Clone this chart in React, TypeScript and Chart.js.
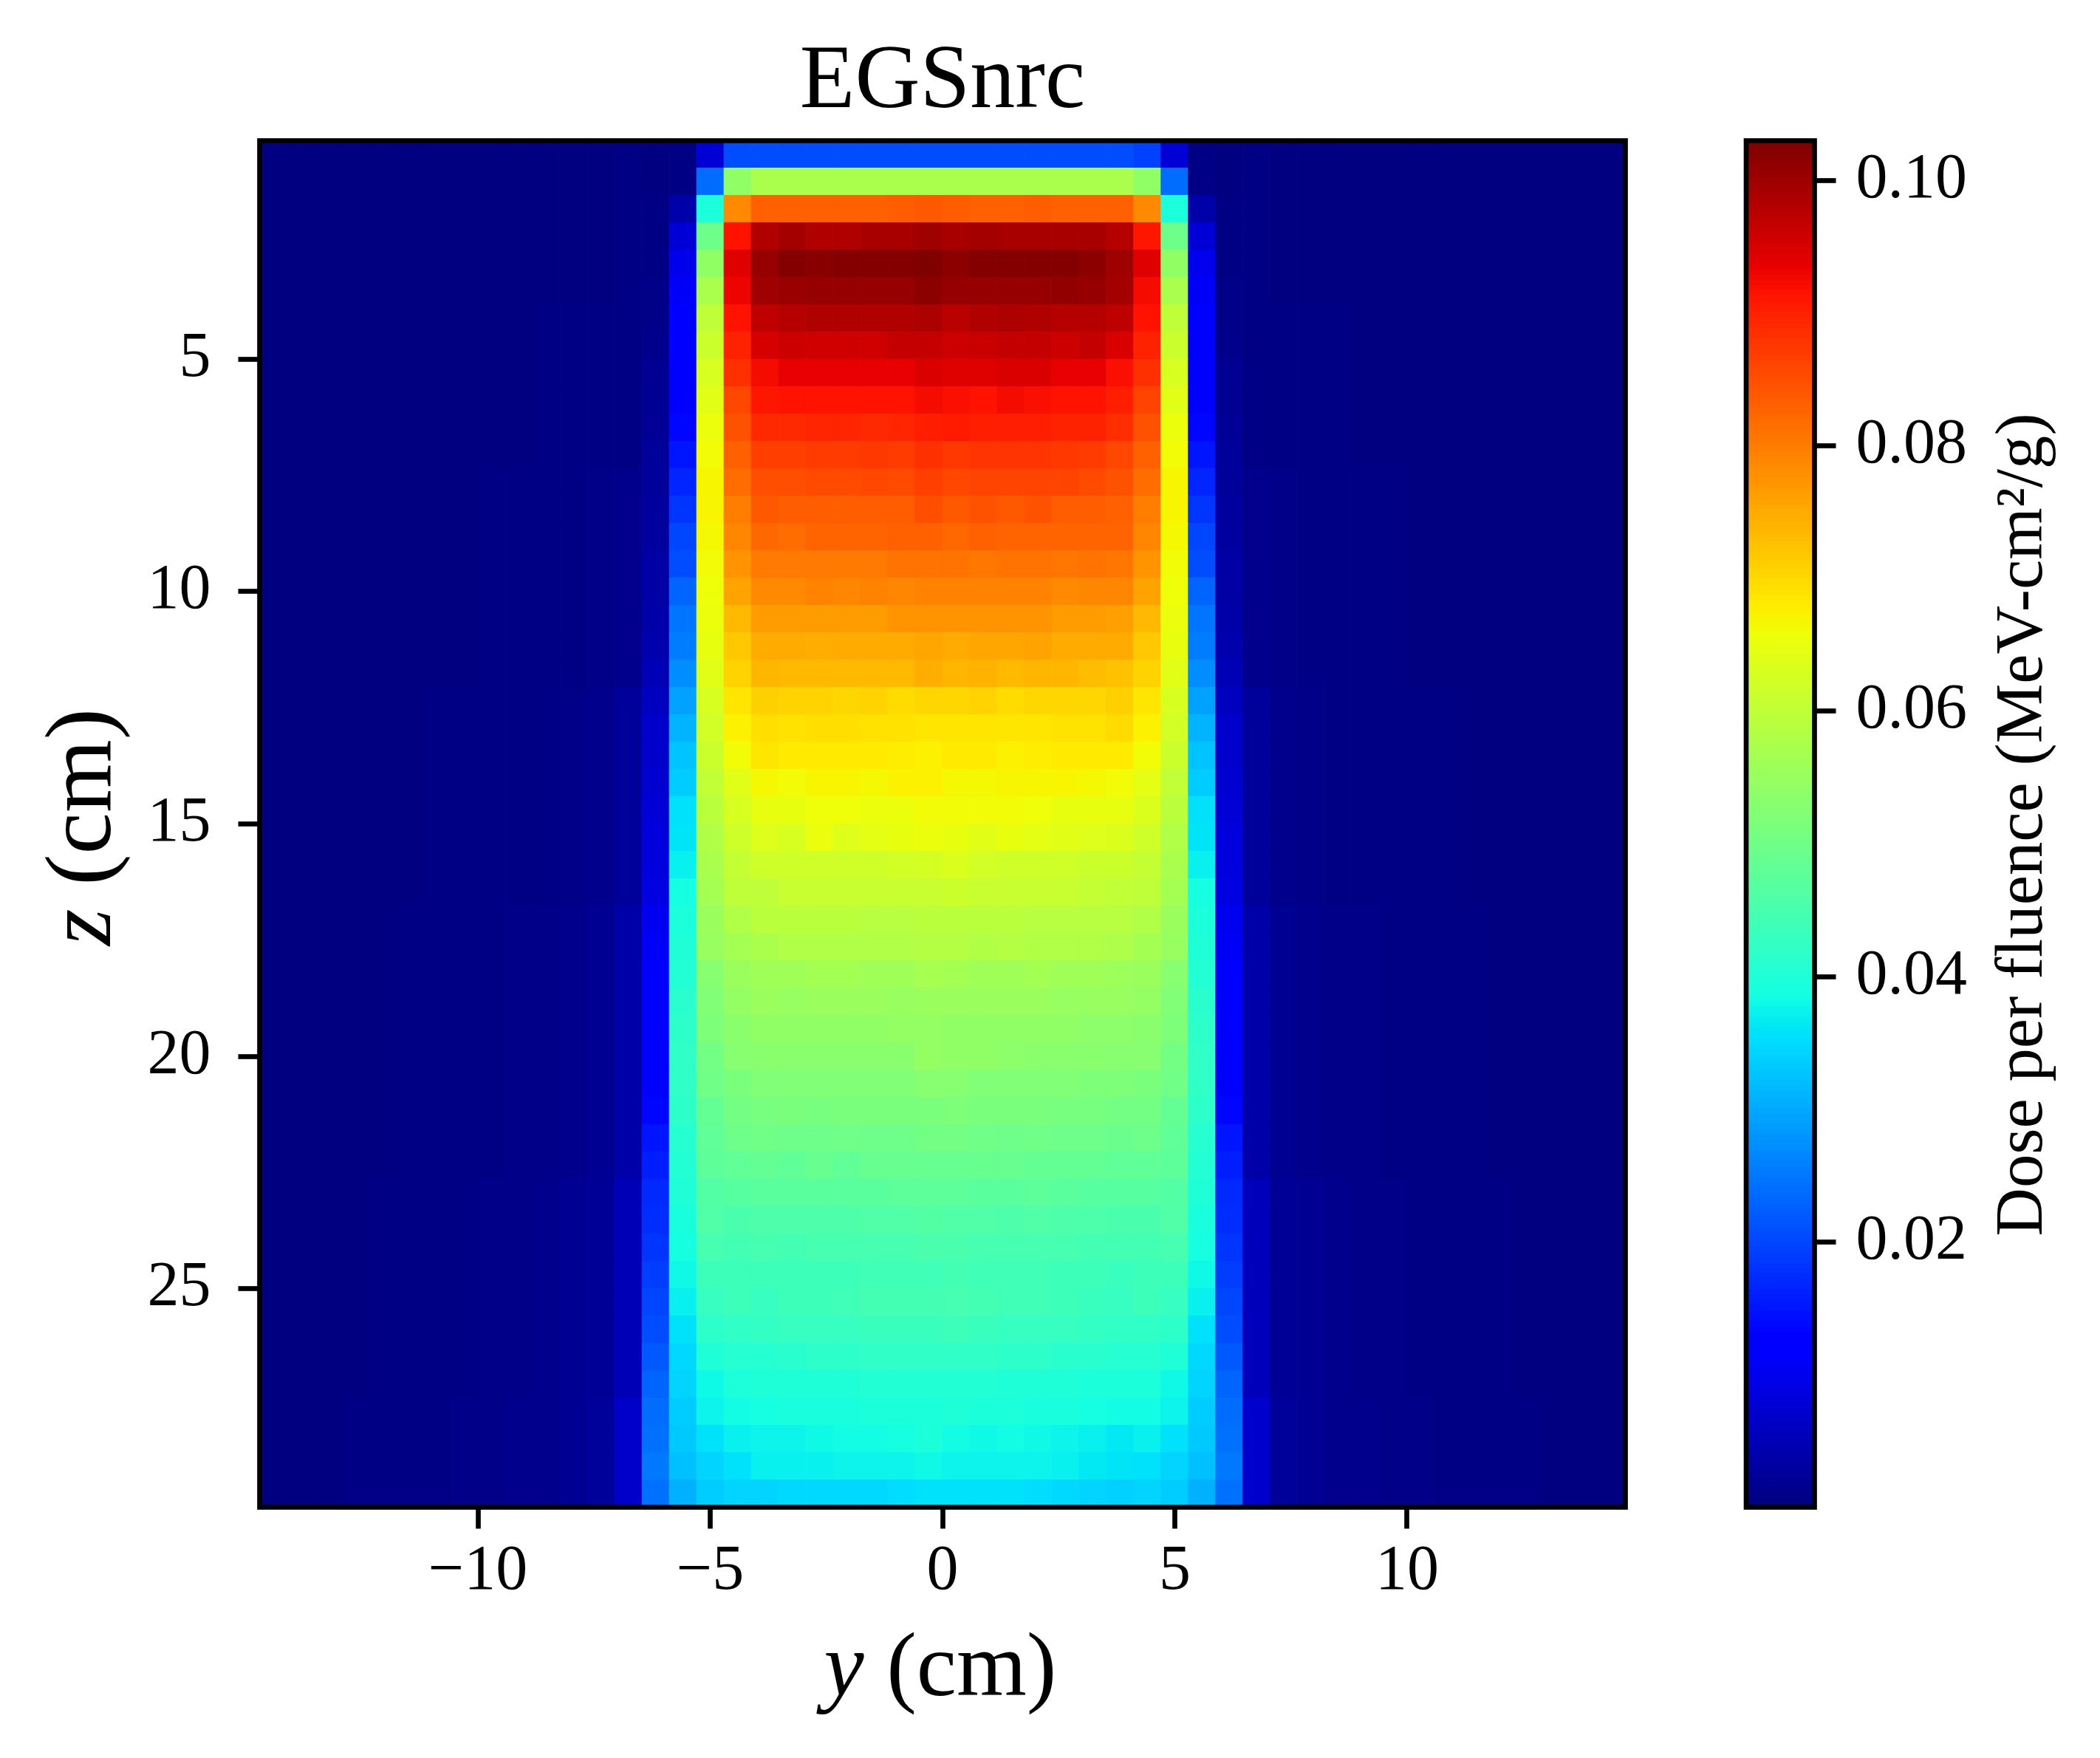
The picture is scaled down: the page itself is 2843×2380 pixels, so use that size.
import React, { useEffect, useRef } from "react";
import { Chart, registerables } from "chart.js";

Chart.register(...registerables);

const FONT = '"Liberation Serif"';
const TITLE = "EGSnrc";
const X_LABEL_VAR = "y";
const Y_LABEL_VAR = "z";
const AXIS_UNIT = " (cm)";
const BAR_LABEL = "Dose per fluence (MeV-cm\u00B2/g)";
const X_MIN = -14.7;
const Z_MIN = 0.3;
const CELL = 0.588;
const COLS = 50;
const V_MIN = 0.00001;
const V_MAX = 0.103;
const DOSE_UNIT = 1e-4;

// Far-field tails, left (columns 0-13) and right (columns 36-49), by depth band. Units of 1e-4.
const tailsLeft = [
  [2,2,2,2,2,3,3,3,3,3,4,4,4,5],
  [2,2,2,3,3,3,3,4,4,4,5,5,6,8],
  [2,2,3,3,3,4,4,4,5,5,6,7,9,13],
  [2,3,3,3,4,4,5,5,6,7,8,10,14,25],
  [3,3,3,4,4,5,6,7,8,9,11,14,20,38],
  [3,3,4,4,5,6,7,8,9,11,13,17,24,52],
  [3,4,4,5,5,6,8,9,11,13,15,19,28,68],
];
const tailsRight = [
  [5,4,4,4,3,3,3,3,3,2,2,2,2,2],
  [8,6,5,5,4,4,4,3,3,3,3,2,2,2],
  [14,9,7,6,5,5,4,4,4,3,3,3,2,2],
  [26,14,10,8,7,6,5,5,4,4,3,3,3,2],
  [40,20,14,11,9,8,7,6,5,4,4,3,3,3],
  [54,24,17,13,11,9,8,7,6,5,4,4,3,3],
  [70,28,19,15,13,11,9,8,6,5,5,4,4,3],
];
// Which tail band each of the 50 depth rows uses.
const tailBand = [0,0,0,0,0,0,1,1,1,1,1,1,2,2,2,2,2,2,2,2,3,3,3,3,3,3,3,3,4,4,4,4,4,4,4,4,4,4,5,5,5,5,5,5,5,5,6,6,6,6];

// Central columns 14-35 for each depth row, top to bottom. Units of 1e-4.
const coreRows = [
  [3,6,78,207,207,207,208,207,207,208,207,207,208,207,207,208,207,207,195,78,6,3],
  [4,7,240,540,572,572,572,572,573,572,572,572,572,572,572,572,572,572,540,240,7,4],
  [5,40,395,785,830,830,830,830,830,835,838,835,832,832,835,832,832,832,785,395,38,5],
  [6,80,495,915,983,995,985,985,990,993,998,993,995,990,990,993,992,978,910,495,80,6],
  [7,100,540,942,1008,1024,1020,1022,1022,1022,1029,1017,1022,1022,1024,1024,1017,1000,942,540,100,7],
  [9,110,575,930,999,1005,1006,1006,1009,1009,1017,1006,1006,1008,1008,1012,1009,995,925,575,110,9],
  [11,118,598,915,970,980,985,985,985,985,986,975,982,986,982,980,980,970,915,598,118,11],
  [14,120,612,898,952,961,957,957,957,968,968,961,963,966,966,961,966,949,898,612,122,14],
  [17,122,628,882,925,936,936,936,936,936,948,943,943,948,948,936,936,921,882,628,122,17],
  [20,125,642,861,913,915,915,915,915,915,922,918,916,924,920,916,916,905,865,642,124,20],
  [22,135,652,845,891,893,896,896,893,895,905,906,902,905,902,901,899,888,845,655,135,22],
  [25,150,660,829,866,868,871,871,874,871,882,875,878,880,878,876,873,861,830,662,150,25],
  [28,166,668,820,850,852,856,855,860,856,868,860,864,864,862,862,856,848,820,668,166,28],
  [30,182,668,800,838,833,833,834,835,833,850,840,845,838,845,834,833,830,800,668,182,30],
  [32,198,665,790,822,820,825,826,826,829,829,824,829,828,828,826,825,826,790,665,198,32],
  [34,207,662,775,803,803,803,803,803,810,810,810,805,810,812,808,810,805,775,662,207,34],
  [36,232,658,757,787,785,795,790,795,792,795,795,795,795,795,785,790,790,757,658,232,36],
  [38,247,652,735,768,766,768,768,768,775,775,775,775,775,775,766,766,762,735,652,247,38],
  [42,255,648,718,752,750,748,750,750,752,755,752,755,755,760,752,752,752,718,648,255,42],
  [50,272,640,708,738,735,735,735,735,735,745,738,742,735,738,738,730,728,708,640,272,50],
  [60,291,630,688,710,708,705,702,708,698,702,702,705,698,702,702,702,710,688,630,291,60],
  [70,311,620,675,696,692,694,694,690,690,688,688,688,688,688,692,692,698,675,620,311,70],
  [72,327,612,662,685,680,680,682,684,678,672,680,680,672,678,684,680,682,662,612,327,72],
  [75,337,600,642,664,662,670,668,666,672,672,666,664,670,670,668,664,660,645,600,337,75],
  [78,355,595,630,650,650,658,658,655,655,660,660,660,660,658,650,650,648,632,595,355,78],
  [85,360,583,618,638,630,652,638,645,648,655,648,642,648,645,642,638,632,618,583,360,85],
  [88,372,572,605,618,618,618,618,618,622,625,635,620,618,618,618,615,612,605,572,372,88],
  [90,390,565,598,598,608,610,610,610,608,608,612,610,610,608,610,605,600,598,565,390,90],
  [103,395,553,583,592,592,592,592,590,590,595,595,592,592,590,590,590,588,583,553,395,103],
  [108,402,548,567,575,583,583,583,583,583,585,585,582,584,580,582,580,578,567,548,402,108],
  [113,405,528,553,562,562,566,566,563,560,568,565,562,562,566,562,560,556,553,528,405,113],
  [120,412,523,545,553,551,554,554,554,551,555,552,552,554,552,550,550,548,545,523,412,120],
  [122,418,518,535,541,541,541,541,541,545,546,543,541,541,541,541,538,536,535,518,418,122],
  [122,422,505,530,535,535,535,535,535,535,545,541,540,538,535,535,533,530,530,505,422,122],
  [125,422,500,515,520,520,522,520,522,522,530,528,522,520,522,520,518,516,515,500,422,125],
  [135,418,485,505,510,513,510,513,513,515,514,518,513,513,515,510,508,505,505,485,418,135],
  [150,410,480,495,499,498,498,499,498,498,505,504,500,498,500,498,496,493,495,480,410,150],
  [160,405,475,482,485,482,488,482,488,488,490,490,488,488,486,486,484,482,482,475,405,160],
  [170,400,465,470,473,473,473,473,473,475,476,478,474,474,476,472,470,468,470,465,400,170],
  [176,393,460,452,455,457,457,457,459,459,463,462,460,458,460,458,456,452,452,460,393,176],
  [182,388,447,443,450,446,448,448,450,450,452,452,448,450,448,448,446,444,443,447,388,182],
  [192,382,435,437,437,437,438,438,440,440,442,443,442,440,440,438,438,434,437,435,382,192],
  [198,372,428,435,430,435,438,440,444,446,446,448,445,442,440,438,434,430,435,428,372,198],
  [207,357,415,420,425,428,428,430,434,434,434,436,433,430,428,428,425,422,420,415,357,207],
  [219,350,400,410,410,414,417,417,420,422,422,422,420,418,416,414,412,408,410,400,350,219],
  [232,345,382,395,400,400,402,402,403,405,405,405,403,402,402,400,398,395,395,382,345,232],
  [238,337,375,385,390,392,393,394,396,396,398,400,398,396,394,392,388,386,385,375,337,238],
  [243,332,357,372,378,378,379,383,386,390,396,384,382,384,382,378,372,366,372,357,332,243],
  [252,322,345,358,372,372,374,376,378,378,380,378,378,376,376,372,366,362,358,345,322,252],
  [243,307,337,343,346,348,350,350,350,352,356,356,356,356,354,350,345,340,343,337,307,243],
];

const xTickStep = 5;
const zTickStep = 5;
const barTickStep = 0.02;

const redStops: number[][] = [[0,0],[0.35,0],[0.66,1],[0.89,1],[1,0.5]];
const greenStops: number[][] = [[0,0],[0.125,0],[0.375,1],[0.64,1],[0.91,0],[1,0]];
const blueStops: number[][] = [[0,0.5],[0.11,1],[0.34,1],[0.65,0],[1,0]];

function channel(stops: number[][], t: number) {
  for (let i = 1; i < stops.length; i++) {
    if (t <= stops[i][0]) {
      const [a, av] = stops[i - 1];
      const [b, bv] = stops[i];
      return Math.round(255 * (av + ((t - a) / (b - a)) * (bv - av)));
    }
  }
  return 0;
}
function jet(v: number) {
  const raw = Math.max(0, Math.min(1, (v - V_MIN) / (V_MAX - V_MIN)));
  const t = Math.min(255, Math.floor(raw * 256)) / 255;
  return `rgb(${channel(redStops, t)},${channel(greenStops, t)},${channel(blueStops, t)})`;
}

const cells: { x: number; y: number; v: number }[] = [];
coreRows.forEach((core, j) => {
  const row = [...tailsLeft[tailBand[j]], ...core, ...tailsRight[tailBand[j]]];
  row.forEach((d, k) => {
    cells.push({ x: X_MIN + (k + 0.5) * CELL, y: Z_MIN + (j + 0.5) * CELL, v: d * DOSE_UNIT });
  });
});

const LINE = 6.67;
const TICK_LEN = 29;

const framePlugin = {
  id: "frame",
  afterDatasetsDraw(chart: any) {
    const { ctx, chartArea: a } = chart;
    ctx.save();
    ctx.strokeStyle = "#000";
    ctx.lineWidth = LINE;
    ctx.strokeRect(a.left, a.top, a.right - a.left, a.bottom - a.top);
    ctx.restore();
  },
};

function drawMixed(ctx: any, variable: string, unit: string, size: number) {
  const italic = `italic ${size}px ${FONT}`;
  const normal = `${size}px ${FONT}`;
  ctx.font = italic;
  const w1 = ctx.measureText(variable).width;
  ctx.font = normal;
  const w2 = ctx.measureText(unit).width;
  ctx.textAlign = "left";
  ctx.textBaseline = "alphabetic";
  ctx.fillStyle = "#000";
  ctx.font = italic;
  ctx.fillText(variable, -(w1 + w2) / 2, 0);
  ctx.font = normal;
  ctx.fillText(unit, -(w1 + w2) / 2 + w1, 0);
}

const mainLabels = {
  id: "mainLabels",
  afterDraw(chart: any) {
    const { ctx, chartArea: a } = chart;
    ctx.save();
    ctx.translate((a.left + a.right) / 2 - 3, 2295);
    drawMixed(ctx, X_LABEL_VAR, AXIS_UNIT, 122);
    ctx.restore();
    ctx.save();
    ctx.translate(149, (a.top + a.bottom) / 2 + 4);
    ctx.rotate(-Math.PI / 2);
    drawMixed(ctx, Y_LABEL_VAR, AXIS_UNIT, 127);
    ctx.restore();
  },
};

const barFill = {
  id: "barFill",
  beforeDatasetsDraw(chart: any) {
    const { ctx, chartArea: a, scales } = chart;
    const s = scales.y;
    ctx.save();
    for (let i = 0; i < 256; i++) {
      const lo = V_MIN + ((V_MAX - V_MIN) * i) / 256;
      const hi = V_MIN + ((V_MAX - V_MIN) * (i + 1)) / 256;
      const yHi = s.getPixelForValue(hi);
      const yLo = s.getPixelForValue(lo);
      ctx.fillStyle = jet((lo + hi) / 2);
      ctx.fillRect(a.left, yHi, a.right - a.left, yLo - yHi + 0.8);
    }
    ctx.restore();
  },
};

const barLabel = {
  id: "barLabel",
  afterDraw(chart: any) {
    const { ctx, chartArea: a } = chart;
    ctx.save();
    ctx.translate(2764 - 2300, (a.top + a.bottom) / 2 + 1);
    ctx.rotate(-Math.PI / 2);
    ctx.font = `90.7px ${FONT}`;
    ctx.fillStyle = "#000";
    ctx.textAlign = "center";
    ctx.textBaseline = "alphabetic";
    ctx.fillText(BAR_LABEL, 0, 0);
    ctx.restore();
  },
};

const tickStyle = {
  display: true,
  drawOnChartArea: false,
  drawTicks: true,
  tickLength: TICK_LEN,
  tickWidth: LINE,
  tickColor: "#000",
};

export default function App() {
  const mainRef = useRef<HTMLCanvasElement>(null);
  const barRef = useRef<HTMLCanvasElement>(null);

  useEffect(() => {
    const main = new Chart(mainRef.current!, {
      type: "scatter",
      data: {
        datasets: [
          {
            label: "Dose per fluence",
            data: cells as any,
            clip: 0 as any,
            pointStyle: "rect",
            pointRadius: (ctx: any) => {
              const s = ctx.chart.scales.x;
              return (Math.abs(s.getPixelForValue(CELL) - s.getPixelForValue(0)) / 2) * Math.SQRT2;
            },
            pointBackgroundColor: (ctx: any) => jet(ctx.raw ? ctx.raw.v : 0),
            pointBorderColor: (ctx: any) => jet(ctx.raw ? ctx.raw.v : 0),
            pointBorderWidth: 1,
          } as any,
        ],
      },
      options: {
        animation: false,
        responsive: false,
        devicePixelRatio: 1,
        events: [],
        layout: { padding: { left: 0, right: 642.5, top: 0, bottom: 0 } },
        plugins: {
          legend: { display: false },
          tooltip: { enabled: false },
          title: {
            display: true,
            text: TITLE,
            color: "#000",
            fullSize: false,
            font: { family: FONT, size: 122, weight: "normal", lineHeight: 1 },
            padding: { top: 52, bottom: 16.5 },
          },
        },
        scales: {
          x: {
            type: "linear",
            min: X_MIN,
            max: X_MIN + CELL * COLS,
            border: { display: false },
            grid: tickStyle,
            afterFit: (s: any) => { s.height = 339.5; },
            ticks: {
              stepSize: xTickStep,
              includeBounds: false,
              autoSkip: false,
              maxRotation: 0,
              padding: 7,
              color: "#000",
              font: { family: FONT, size: 86 },
              callback: (v: any) => (v < 0 ? `\u2212${Math.abs(v)}` : `${v}`),
            },
          },
          y: {
            type: "linear",
            reverse: true,
            min: Z_MIN,
            max: Z_MIN + CELL * COLS,
            border: { display: false },
            grid: tickStyle,
            afterFit: (s: any) => { s.width = 351.5; },
            ticks: {
              stepSize: zTickStep,
              includeBounds: false,
              autoSkip: false,
              padding: 37,
              color: "#000",
              font: { family: FONT, size: 86 },
              callback: (v: any) => `${v}`,
            },
          },
        },
      } as any,
      plugins: [framePlugin, mainLabels],
    });

    const bar = new Chart(barRef.current!, {
      type: "scatter",
      data: { datasets: [{ label: "Colour bar", data: [] }] },
      options: {
        animation: false,
        responsive: false,
        devicePixelRatio: 1,
        events: [],
        layout: { padding: { left: 64, right: 0, top: 190.5, bottom: 339.5 } },
        plugins: { legend: { display: false }, tooltip: { enabled: false } },
        scales: {
          x: { type: "linear", display: false, min: 0, max: 1 },
          y: {
            type: "linear",
            position: "right",
            min: V_MIN,
            max: V_MAX,
            border: { display: false },
            grid: tickStyle,
            afterFit: (s: any) => { s.width = 386.5; },
            ticks: {
              stepSize: barTickStep,
              includeBounds: false,
              autoSkip: false,
              padding: 27,
              color: "#000",
              font: { family: FONT, size: 86 },
              callback: (v: any) => Number(v).toFixed(2),
            },
          },
        },
      } as any,
      plugins: [barFill, framePlugin, barLabel],
    });

    return () => {
      main.destroy();
      bar.destroy();
    };
  }, []);

  return (
    <div style={{ position: "absolute", left: 0, top: 0, width: 2843, height: 2380, background: "#fff", overflow: "hidden" }}>
      <canvas ref={mainRef} width={2843} height={2380} style={{ position: "absolute", left: 0, top: 0, display: "block" }} />
      <canvas ref={barRef} width={543} height={2380} style={{ position: "absolute", left: 2300, top: 0, display: "block" }} />
    </div>
  );
}
